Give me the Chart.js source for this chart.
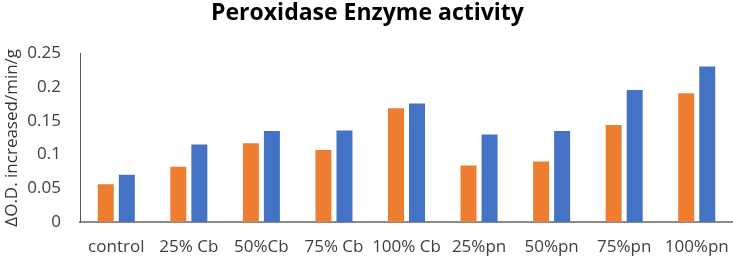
<!DOCTYPE html>
<html>
<head>
<meta charset="utf-8">
<script src="https://cdn.jsdelivr.net/npm/chart.js@4"></script>
<style>
  html, body { margin: 0; padding: 0; background: #fff; }
  #wrap { width: 733px; height: 258px; }
</style>
</head>
<body>
<div id="wrap"><canvas id="peroxidase"></canvas></div>
<script>
var categories = ['control', '25% Cb', '50%Cb', '75% Cb', '100% Cb', '25%pn', '50%pn', '75%pn', '100%pn'];
var series1 = [0.056, 0.082, 0.117, 0.107, 0.169, 0.084, 0.090, 0.144, 0.191];
var series2 = [0.070, 0.115, 0.135, 0.136, 0.176, 0.130, 0.135, 0.196, 0.231];
var yTicks = [0, 0.05, 0.1, 0.15, 0.2, 0.25];

var data = {
  labels: categories,
  datasets: [
    {
      label: 'Series1',
      data: series1,
      backgroundColor: '#ED7D31',
      categoryPercentage: 0.58,
      barPercentage: 0.76
    },
    {
      label: 'Series2',
      data: series2,
      backgroundColor: '#4472C4',
      categoryPercentage: 0.58,
      barPercentage: 0.76
    }
  ]
};

var options = {
  responsive: true,
  maintainAspectRatio: false,
  animation: false,
  layout: { padding: { left: 2, right: 0, top: 0, bottom: 0 } },
  plugins: {
    legend: { display: false },
    tooltip: { enabled: false },
    title: {
      display: true,
      text: 'Peroxidase Enzyme activity',
      color: '#000',
      font: { size: 23, weight: 'bold', family: "'Open Sans', sans-serif" },
      padding: { top: 0, bottom: 26 }
    }
  },
  scales: {
    x: {
      afterFit: function (axis) {
        axis.height = 36;
        axis.paddingLeft = 0;
        axis.paddingRight = 0;
      },
      grid: { display: false, drawTicks: false },
      border: { display: true, color: '#8a8a8a', width: 2 },
      ticks: {
        color: '#404040',
        padding: 15,
        maxRotation: 0,
        autoSkip: false,
        font: { size: 17, family: "'Open Sans', sans-serif" }
      }
    },
    y: {
      min: 0,
      max: 0.25,
      afterFit: function (axis) { axis.width = 78; },
      afterBuildTicks: function (axis) {
        axis.ticks = yTicks.map(function (v) { return { value: v }; });
      },
      grid: { display: false, drawTicks: false },
      border: { display: true, color: '#595959', width: 1 },
      ticks: {
        color: '#404040',
        padding: 19,
        font: { size: 17, family: "'Open Sans', sans-serif" },
        callback: function (v) { return String(Math.round(v * 100) / 100); }
      },
      title: {
        display: true,
        text: 'ΔO.D. increased/min/g',
        color: '#333',
        padding: { top: 0, bottom: 4 },
        font: { size: 17, family: "'Open Sans', sans-serif" }
      }
    }
  }
};

var ctx = document.getElementById('peroxidase');
var myChart = new Chart(ctx, { type: 'bar', data: data, options: options });
</script>
</body>
</html>
